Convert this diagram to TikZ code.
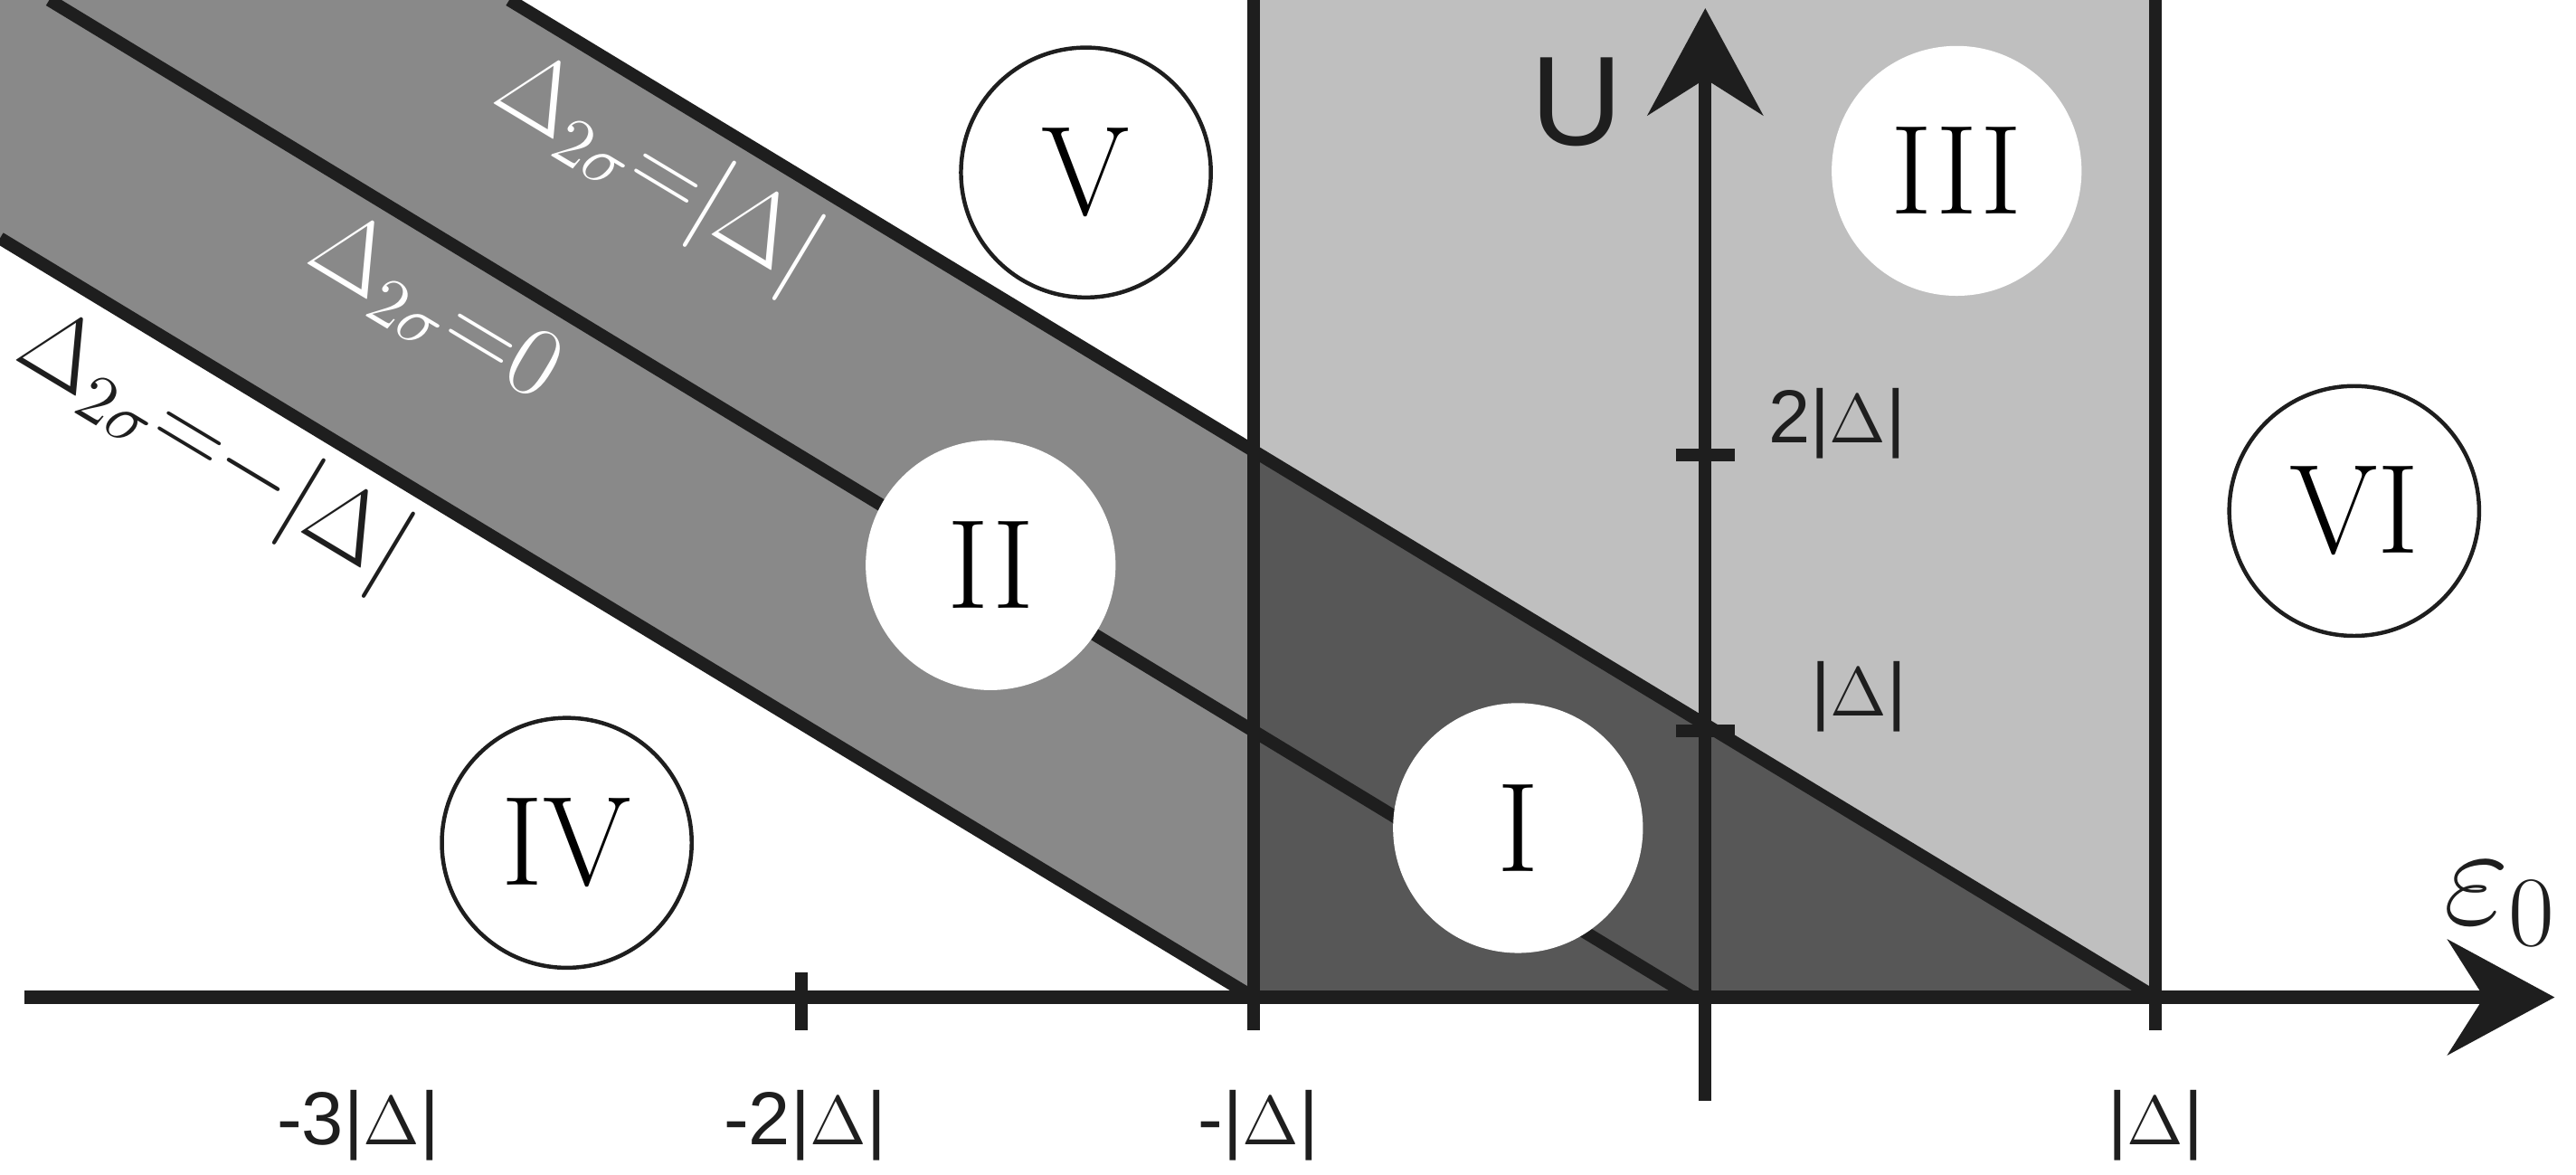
\documentclass[tikz,border=0pt]{standalone}
\usepackage{fontspec}
\newfontfamily\labelfont{Liberation Sans}
\usetikzlibrary{arrows.meta}
\definecolor{bandgray}{HTML}{898989}
\definecolor{lightgray}{HTML}{BFBFBF}
\definecolor{darkgray}{HTML}{575757}
\definecolor{ink}{HTML}{1E1E1E}
\begin{document}
\begin{tikzpicture}[x=0.01cm,y=-0.01cm,
    region/.style={circle,minimum size=1.52cm,inner sep=0pt,fill=white,font=\fontsize{22}{22}\selectfont},
    ringed/.style={region,draw=ink,line width=0.7pt},
    thick line/.style={ink,line width=2.2pt},
    tick label/.style={font=\labelfont\fontsize{13}{13}\selectfont,text=ink},
    line label/.style={rotate=-31,inner sep=0pt,font=\fontsize{17}{17}\selectfont}]
  \useasboundingbox (0,0) rectangle (1568,715);
  % shaded regions
  \fill[bandgray] (0,0) -- (310,0) -- (763,277) -- (763,607) -- (0,145) -- cycle;
  \fill[lightgray] (763,0) -- (1312,0) -- (1312,607) -- (763,277) -- cycle;
  \fill[darkgray] (763,277) -- (1312,607) -- (763,607) -- cycle;
  % boundaries
  \draw[thick line] (0,145) -- (763,607);
  \draw[thick line] (30,0) -- (1030,607);
  \draw[thick line] (310,0) -- (1312,607);
  \draw[thick line] (763,0) -- (763,627);
  \draw[thick line] (1312,0) -- (1312,627);
  % axes
  \coordinate (xs) at (15,607);
  \coordinate (xe) at (1555,607);
  \coordinate (ys) at (1038,670);
  \coordinate (ye) at (1038,5);
  \draw[thick line,-{Stealth[length=0.65cm,width=0.7cm,inset=0.22cm]}] (xs) -- (xe);
  \draw[thick line,-{Stealth[length=0.65cm,width=0.7cm,inset=0.22cm]}] (ys) -- (ye);
  \draw[thick line] (488,592) -- (488,627);
  \draw[thick line] (1020,277) -- (1056,277);
  \draw[thick line] (1020,445) -- (1056,445);
  % tick labels
  \node[tick label] (m3) at (218,685) {-3|$\Delta$|};
  \node[tick label] (m2) at (490,685) {-2|$\Delta$|};
  \node[tick label] (m1) at (766,685) {-|$\Delta$|};
  \node[tick label] (p1) at (1312,685) {|$\Delta$|};
  \node[tick label,anchor=west] (u2) at (1064,258) {2|$\Delta$|};
  \node[tick label,anchor=west] (u1) at (1090,424) {|$\Delta$|};
  \node[font=\labelfont\fontsize{22}{22}\selectfont,text=ink] (U) at (960,62) {U};
  \node[font=\fontsize{24}{24}\selectfont,text=ink] (eps) at (1522,550) {$\varepsilon_0$};
  % line labels
  \node[line label,text=white] (la) at (400,105) {$\Delta_{2\sigma}{=}|\Delta|$};
  \node[line label,text=white] (lb) at (265,188) {$\Delta_{2\sigma}{=}0$};
  \node[line label,text=ink] (lc) at (130,274) {$\Delta_{2\sigma}{=}{-}|\Delta|$};
  % regions
  \node[region] (I) at (924,504) {I};
  \node[region] (II) at (603,344) {II};
  \node[region] (III) at (1191,104) {III};
  \node[ringed] (IV) at (345,513) {IV};
  \node[ringed] (V) at (661,105) {V};
  \node[ringed] (VI) at (1433,311) {VI};
\end{tikzpicture}
\end{document}
